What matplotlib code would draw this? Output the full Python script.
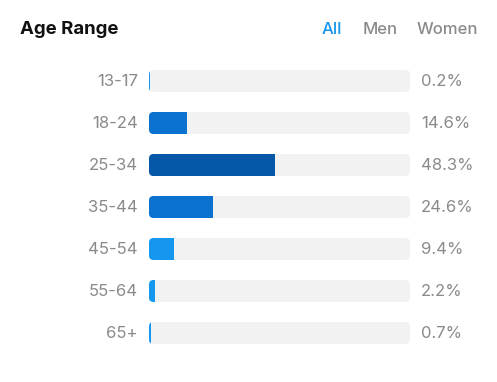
"""Répartition par tranche d'âge, barres horizontales arrondies."""

import matplotlib

matplotlib.use("Agg")
import matplotlib.pyplot as plt
import numpy as np
from matplotlib.patches import FancyBboxPatch

AGE_RANGES = ["13-17", "18-24", "25-34", "35-44", "45-54", "55-64", "65+"]
SHARES = [0.2, 14.6, 48.3, 24.6, 9.4, 2.2, 0.7]
BAR_COLORS = ["#1597F0", "#0B72CF", "#0558A8", "#0B72CF", "#1597F0", "#1597F0", "#1597F0"]
TABS = ["All", "Men", "Women"]

TRACK_COLOR = "#F2F2F2"
LABEL_COLOR = "#8A8A8A"
ACTIVE_COLOR = "#1597F0"

plt.rcParams.update({"font.family": ["Inter", "DejaVu Sans"]})

W, H = 497, 382
figure = plt.figure(figsize=(W / 100, H / 100), dpi=100)
figure.patch.set_facecolor("white")

# axes covering the grey tracks, in pixel-derived fractions
left, right = 149, 410
top, bottom = 60, 354
axis = figure.add_axes([left / W, (H - bottom) / H, (right - left) / W, (bottom - top) / H])
axis.set_xlim(0, 100)
axis.set_ylim(len(AGE_RANGES) - 0.5, -0.5)
axis.set_axis_off()

bar_height = 22 / 42
px_x = 100 / (right - left)          # data units per pixel, x
px_y = len(AGE_RANGES) / (bottom - top)  # data units per pixel, y
radius = 4.5 * px_x
aspect = px_y / px_x

positions = np.arange(len(AGE_RANGES))
for position, label, share, color in zip(positions, AGE_RANGES, SHARES, BAR_COLORS):
    track = FancyBboxPatch(
        (0, position - bar_height / 2),
        100,
        bar_height,
        boxstyle=f"round,pad=0,rounding_size={radius}",
        mutation_aspect=aspect,
        facecolor=TRACK_COLOR,
        edgecolor="none",
    )
    axis.add_patch(track)
    bars = axis.barh(position, share, height=bar_height, color=color, linewidth=0)
    for bar in bars:
        bar.set_clip_path(track)
    axis.text(-11 * px_x, position + 1 * px_y, label, ha="right", va="center",
              fontsize=12, color=LABEL_COLOR)
    axis.text(100 + 11 * px_x, position + 1 * px_y, f"{share:.1f}%", ha="left",
              va="center", fontsize=12, color=LABEL_COLOR)

figure.text(20 / W, 1 - 29 / H, "Age Range", ha="left", va="center",
            fontsize=13.4, fontweight="bold", color="#111111")
tab_x = [322, 363, 417]
for x, tab in zip(tab_x, TABS):
    figure.text(x / W, 1 - 29 / H, tab, ha="left", va="center", fontsize=12,
                fontweight="medium", color=ACTIVE_COLOR if tab == "All" else LABEL_COLOR)

figure.savefig("out.png", dpi=100, facecolor="white")
